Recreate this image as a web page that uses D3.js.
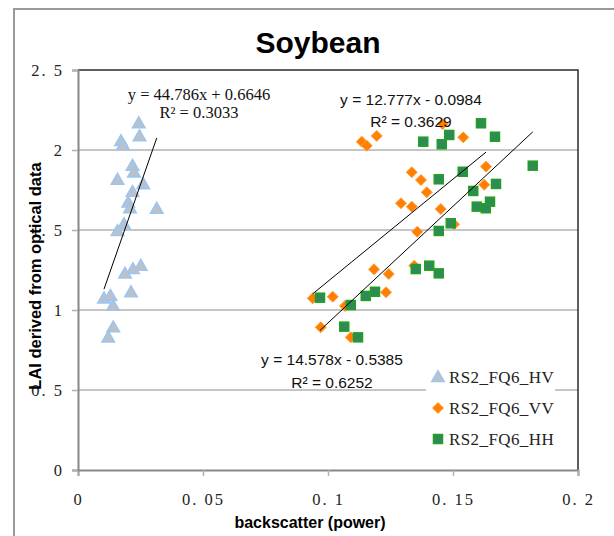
<!DOCTYPE html>
<html><head><meta charset="utf-8">
<script src="https://cdn.jsdelivr.net/npm/d3@7"></script>
<style>body{margin:0;background:#fff}svg{display:block}</style>
</head><body>
<svg id="c" width="614" height="536"></svg>
<script>
// ---- data ----
const hvX = [0.0243,0.0246,0.0172,0.0180,0.0218,0.0224,0.0158,0.0261,0.0218,0.0201,0.0208,0.0315,0.0184,0.0158,0.0251,0.0220,0.0188,0.0212,0.0104,0.0130,0.0140,0.0141,0.0121];
const hvY = [2.162,2.081,2.050,2.025,1.896,1.854,1.809,1.781,1.733,1.667,1.631,1.628,1.531,1.488,1.271,1.250,1.222,1.106,1.067,1.083,1.021,0.886,0.823];
const vvX = [0.1459,0.1195,0.1135,0.1155,0.1541,0.1335,0.1372,0.1395,0.1632,0.1625,0.1292,0.1335,0.1451,0.1504,0.1357,0.1184,0.1243,0.1345,0.1232,0.1019,0.0939,0.1068,0.0971,0.1091];
const vvY = [2.162,2.088,2.052,2.027,2.079,1.861,1.812,1.736,1.896,1.783,1.667,1.646,1.631,1.536,1.489,1.254,1.225,1.277,1.111,1.083,1.073,1.025,0.892,0.829];
const hhX = [0.1612,0.1668,0.1485,0.1381,0.1455,0.1819,0.1539,0.1443,0.1672,0.1581,0.1648,0.1595,0.1631,0.1491,0.1443,0.1351,0.1405,0.1443,0.1188,0.1151,0.0968,0.1091,0.1065,0.1120];
const hhY = [2.167,2.083,2.094,2.052,2.036,1.902,1.864,1.817,1.788,1.744,1.677,1.646,1.636,1.542,1.494,1.256,1.277,1.229,1.114,1.088,1.077,1.031,0.896,0.829];
const seriesNames = ["RS2_FQ6_HV","RS2_FQ6_VV","RS2_FQ6_HH"];
const slopes = [44.786, 12.777, 14.578];
const intercepts = [0.6646, -0.0984, -0.5385];
const eqLabels = ["y = 44.786x + 0.6646","y = 12.777x - 0.0984","y = 14.578x - 0.5385"];
const r2Labels = ["R² = 0.3033","R² = 0.3629","R² = 0.6252"];
const xTicks = [0,0.05,0.1,0.15,0.2];
const yTicks = [0,0.5,1,1.5,2,2.5];
const title = "Soybean";
const xTitle = "backscatter (power)";
const yTitle = "LAI derived from optical data";

// ---- layout ----
const svg = d3.select("#c");
const L = 78, R = 578, T = 70, B = 470;
const x = d3.scaleLinear().domain([0,0.2]).range([L,R]);
const y = d3.scaleLinear().domain([0,2.5]).range([B,T]);
const fmt = d => d === 0 ? "0" : String(d).replace(".", ". ");

// outer border
svg.append("rect").attr("x",14).attr("y",9).attr("width",610).attr("height",540)
  .attr("fill","#fff").attr("stroke","#9a9a9a").attr("stroke-width",2);

// gridlines
svg.append("g").selectAll("line").data(yTicks.filter(d=>d>0 && d<2.5)).join("line")
  .attr("x1",L).attr("x2",R).attr("y1",d=>y(d)).attr("y2",d=>y(d))
  .attr("stroke","#8c8c8c").attr("stroke-width",1);

// plot border top/right
svg.append("path").attr("d",`M${L},${T}H${R}V${B}`).attr("fill","none")
  .attr("stroke","#2a2a2a").attr("stroke-width",1.5);

// axes
const xAxis = svg.append("g").attr("transform",`translate(0,${B})`)
  .call(d3.axisBottom(x).tickValues(xTicks).tickFormat(fmt).tickSize(6).tickPadding(17));
const yAxis = svg.append("g").attr("transform",`translate(${L},0)`)
  .call(d3.axisLeft(y).tickValues(yTicks).tickFormat(fmt).tickSize(6).tickPadding(8));
[xAxis,yAxis].forEach(g=>{
  g.select(".domain").attr("stroke","#878787").attr("stroke-width",2);
  g.selectAll(".tick line").attr("stroke","#b0b0b0").attr("stroke-width",1.5);
  g.selectAll("text").attr("font-family","'Liberation Serif', serif").attr("font-size",16.5)
    .attr("letter-spacing",2).attr("fill","#222");
});

// markers
const tri = d3.symbol().type(d3.symbolTriangle).size(66);
svg.append("g").selectAll("path").data(hvX.map((v,i)=>[v,hvY[i]])).join("path")
  .attr("d",tri).attr("transform",d=>`translate(${x(d[0])},${y(d[1])})`)
  .attr("fill","#bcc1c8").attr("stroke","#9dc5f0").attr("stroke-width",1.6);

const dia = "M0,-5.5L5.5,0L0,5.5L-5.5,0Z";
svg.append("g").selectAll("path").data(vvX.map((v,i)=>[v,vvY[i]])).join("path")
  .attr("d",dia).attr("transform",d=>`translate(${x(d[0])},${y(d[1])})`)
  .attr("fill","#ff7f00").attr("stroke","#ffa040").attr("stroke-width",1);

svg.append("g").selectAll("rect").data(hhX.map((v,i)=>[v,hhY[i]])).join("rect")
  .attr("x",d=>x(d[0])-4.5).attr("y",d=>y(d[1])-4.5).attr("width",9).attr("height",9)
  .attr("fill","#2f8a58").attr("stroke","#21a121").attr("stroke-width",1.5);

// trendlines
const xsAll = [hvX, vvX, hhX];
xsAll.forEach((xs,i)=>{
  const x0 = d3.min(xs), x1 = d3.max(xs);
  svg.append("line").attr("x1",x(x0)).attr("x2",x(x1))
    .attr("y1",y(slopes[i]*x0+intercepts[i])).attr("y2",y(slopes[i]*x1+intercepts[i]))
    .attr("stroke","#000").attr("stroke-width",1);
});

// equations
const eqPos = [[199,100,118,"'Liberation Serif', serif",16.5],[411,105,127,"'Liberation Sans', sans-serif",15.5],[332,365,388,"'Liberation Sans', sans-serif",15.5]];
eqPos.forEach((p,i)=>{
  svg.append("text").attr("x",p[0]).attr("y",p[1]).attr("text-anchor","middle")
    .attr("font-family",p[3]).attr("font-size",p[4]).attr("fill","#111").text(eqLabels[i]);
  svg.append("text").attr("x",p[0]).attr("y",p[2]).attr("text-anchor","middle")
    .attr("font-family",p[3]).attr("font-size",p[4]).attr("fill","#111").text(r2Labels[i]);
});

// legend
svg.append("rect").attr("x",426).attr("y",362).attr("width",129).attr("height",96).attr("fill","#fff");
const legY = [377,408,439];
const lg = svg.append("g");
lg.append("path").attr("d",tri).attr("transform",`translate(438,${legY[0]+1})`)
  .attr("fill","#bcc1c8").attr("stroke","#9dc5f0").attr("stroke-width",1.6);
lg.append("path").attr("d",dia).attr("transform",`translate(438,${legY[1]})`)
  .attr("fill","#ff7f00").attr("stroke","#ffa040").attr("stroke-width",1);
lg.append("rect").attr("x",433.5).attr("y",legY[2]-4.5).attr("width",9).attr("height",9)
  .attr("fill","#2f8a58").attr("stroke","#21a121").attr("stroke-width",1.5);
seriesNames.forEach((n,i)=>{
  lg.append("text").attr("x",449).attr("y",legY[i]+6).attr("font-family","'Liberation Serif', serif")
    .attr("font-size",17).attr("letter-spacing",0.4).attr("fill","#222").text(n);
});

// titles
svg.append("text").attr("x",318).attr("y",53).attr("text-anchor","middle")
  .attr("font-family","'Liberation Sans', sans-serif").attr("font-weight","bold").attr("font-size",30).attr("fill","#000").text(title);
svg.append("text").attr("x",310).attr("y",528).attr("text-anchor","middle")
  .attr("font-family","'Liberation Sans', sans-serif").attr("font-weight","bold").attr("font-size",16).attr("fill","#000").text(xTitle);
svg.append("text").attr("transform","translate(41,276) rotate(-90)").attr("text-anchor","middle")
  .attr("font-family","'Liberation Sans', sans-serif").attr("font-weight","bold").attr("font-size",16.5).attr("fill","#000").text(yTitle);
</script>
</body></html>
